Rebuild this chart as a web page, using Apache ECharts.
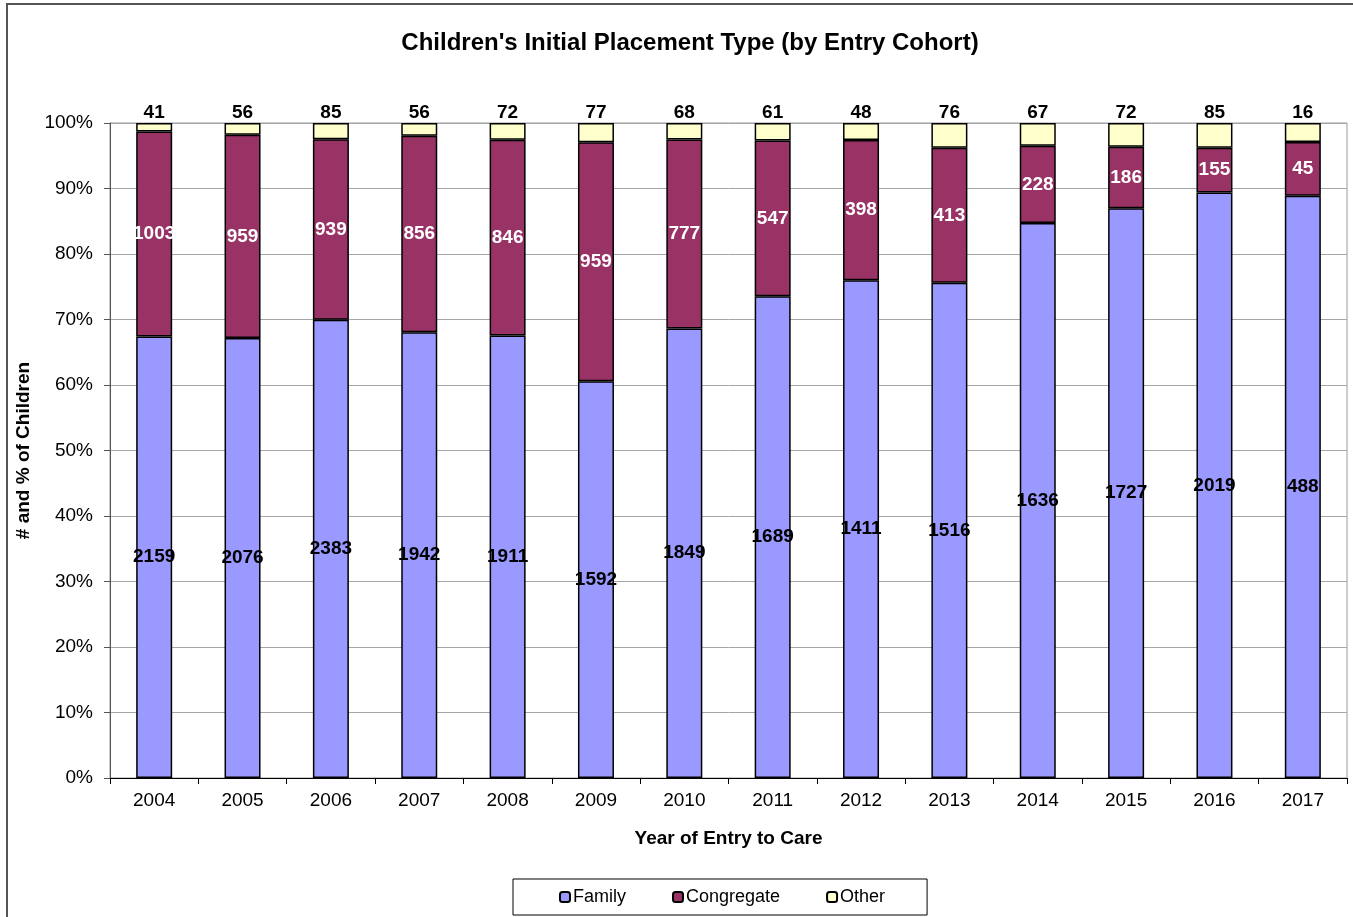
<!DOCTYPE html>
<html>
<head>
<meta charset="utf-8">
<title>Children's Initial Placement Type</title>
<script src="https://cdn.jsdelivr.net/npm/echarts@6/dist/echarts.min.js"></script>
<style>
  html, body { margin: 0; padding: 0; background: #fff; }
  #chart { width: 1353px; height: 917px; }
</style>
</head>
<body>
<div id="chart"></div>
<script>
// entry cohorts
const years = ['2004', '2005', '2006', '2007', '2008', '2009', '2010',
  '2011', '2012', '2013', '2014', '2015', '2016', '2017'];

// counts of children by initial placement type
const family = [2159, 2076, 2383, 1942, 1911, 1592, 1849, 1689, 1411, 1516, 1636, 1727, 2019, 488];
const congregate = [1003, 959, 939, 856, 846, 959, 777, 547, 398, 413, 228, 186, 155, 45];
const other = [41, 56, 85, 56, 72, 77, 68, 61, 48, 76, 67, 72, 85, 16];

const yTicks = [0, 10, 20, 30, 40, 50, 60, 70, 80, 90, 100];

const FONT = 'Arial, "Liberation Sans", sans-serif';

const totals = years.map((y, i) => family[i] + congregate[i] + other[i]);
// share of each cohort, in percent
const toPct = arr => arr.map((v, i) => v / totals[i] * 100);

const makeSeries = (name, counts, color, labelColor, pos) => ({
  name,
  type: 'bar',
  stack: 'all',
  barWidth: 36,
  data: toPct(counts),
  itemStyle: { color, borderColor: '#000', borderWidth: 1.5 },
  label: {
    show: true,
    position: pos,
    distance: 1,
    color: labelColor,
    fontFamily: FONT,
    fontWeight: 'bold',
    fontSize: 19,
    formatter: p => String(counts[p.dataIndex])
  },
  emphasis: { disabled: true }
});

const chart = echarts.init(document.getElementById('chart'));

chart.setOption({
  animation: false,
  backgroundColor: '#fff',
  textStyle: { fontFamily: FONT },
  title: {
    text: "Children's Initial Placement Type (by Entry Cohort)",
    left: 685,
    textAlign: 'center',
    top: 26,
    textStyle: { fontFamily: FONT, fontSize: 24, fontWeight: 'bold', color: '#000' }
  },
  graphic: [{
    type: 'rect',
    shape: { x: 7, y: 4, width: 1400, height: 1000 },
    style: { fill: 'none', stroke: '#555', lineWidth: 2 },
    silent: true
  }],
  legend: {
    bottom: 2,
    left: 513,
    itemWidth: 10,
    itemHeight: 10,
    itemGap: 46,
    padding: [9, 42, 9, 46],
    borderColor: '#000',
    borderWidth: 1,
    textStyle: { fontFamily: FONT, fontSize: 18, color: '#000', padding: [0, 0, 0, -2] },
    data: ['Family', 'Congregate', 'Other']
  },
  grid: {
    left: 110,
    right: 6,
    top: 123,
    bottom: 139,
    show: true,
    borderColor: '#999',
    borderWidth: 1
  },
  xAxis: {
    type: 'category',
    data: years,
    name: 'Year of Entry to Care',
    nameLocation: 'middle',
    nameGap: 51,
    nameTextStyle: { fontFamily: FONT, fontSize: 19, fontWeight: 'bold', color: '#000' },
    axisLine: { lineStyle: { color: '#000', width: 1 } },
    axisTick: { show: true, length: 6, lineStyle: { color: '#000' } },
    axisLabel: { margin: 13, fontFamily: FONT, fontSize: 19, color: '#000' }
  },
  yAxis: {
    type: 'value',
    min: yTicks[0],
    max: yTicks[yTicks.length - 1],
    interval: yTicks[1] - yTicks[0],
    name: '# and % of Children',
    nameLocation: 'middle',
    nameGap: 76,
    nameTextStyle: { fontFamily: FONT, fontSize: 19, fontWeight: 'bold', color: '#000' },
    axisLine: { show: true, lineStyle: { color: '#555', width: 1 } },
    axisTick: { show: true, length: 6, lineStyle: { color: '#555' } },
    axisLabel: { margin: 17, fontFamily: FONT, fontSize: 19, color: '#000', formatter: v => v + '%' },
    splitLine: { show: true, lineStyle: { color: '#a6a6a6', width: 1 } }
  },
  series: [
    makeSeries('Family', family, '#9999ff', '#000', 'inside'),
    makeSeries('Congregate', congregate, '#993366', '#fff', 'inside'),
    makeSeries('Other', other, '#ffffcc', '#000', 'top')
  ]
});
</script>
</body>
</html>
